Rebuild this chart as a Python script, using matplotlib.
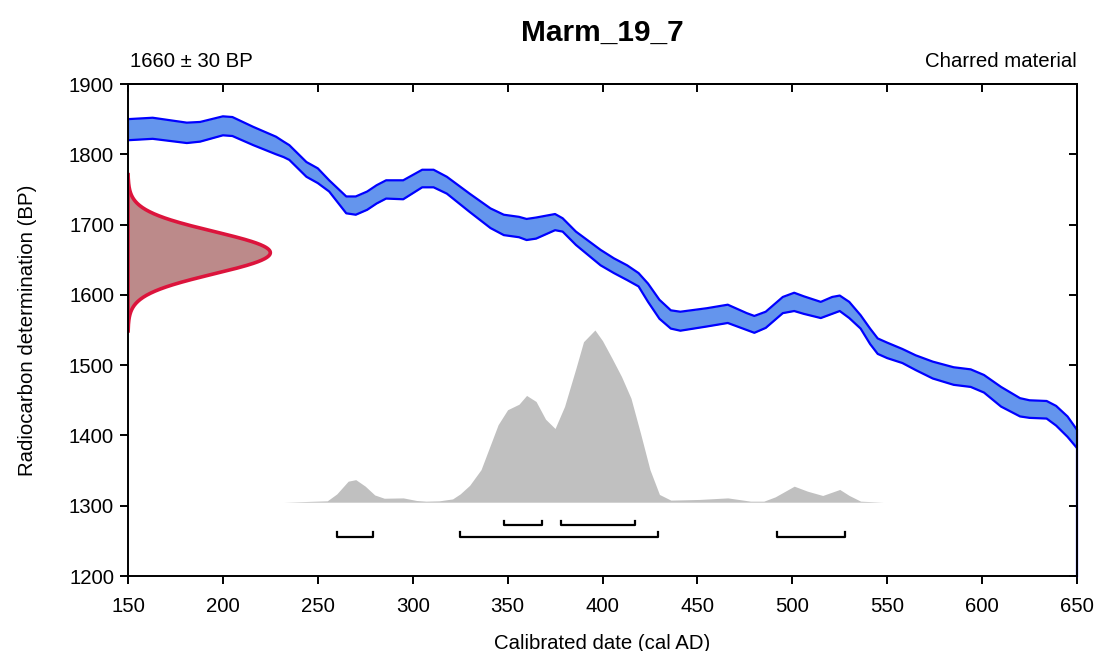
import matplotlib
matplotlib.use("Agg")
import matplotlib.pyplot as plt
import numpy as np

plt.rcParams['font.family'] = ['Liberation Sans', 'DejaVu Sans']

# ---- data ----
sample_name = "Marm_19_7"
c14_age = 1660
c14_err = 30
material = "Charred material"

cal_years = [150, 163, 181, 188, 200, 205, 216, 228, 232, 235, 244, 250, 256, 265, 270,
             276, 281, 286, 295, 305, 311, 318, 330, 341, 348, 356, 360, 365, 375, 379,
             386, 399, 406, 413, 419, 424, 430, 436, 441, 455, 466, 476, 480, 486, 495,
             501, 506, 515, 521, 525, 530, 536, 541, 545, 550, 558, 565, 574, 585, 594,
             601, 610, 620, 625, 634, 639, 645, 650]
curve_upper = [1850, 1852, 1845, 1846, 1854, 1853, 1839, 1825, 1818, 1813, 1789, 1780, 1763, 1740, 1740,
               1747, 1756, 1763, 1763, 1778, 1778, 1768, 1744, 1723, 1714, 1711, 1708, 1710, 1715, 1709,
               1690, 1664, 1652, 1642, 1631, 1616, 1593, 1578, 1576, 1581, 1586, 1574, 1570, 1576, 1597,
               1603, 1598, 1590, 1597, 1599, 1590, 1571, 1552, 1538, 1532, 1523, 1514, 1505, 1497, 1494,
               1486, 1469, 1453, 1450, 1449, 1442, 1427, 1408]
curve_lower = [1820, 1822, 1816, 1818, 1827, 1826, 1813, 1800, 1796, 1792, 1768, 1759, 1747, 1716, 1714,
               1721, 1730, 1737, 1736, 1753, 1753, 1744, 1718, 1695, 1685, 1682, 1678, 1680, 1692, 1690,
               1671, 1642, 1631, 1621, 1612, 1590, 1566, 1552, 1549, 1555, 1560, 1550, 1546, 1553, 1574,
               1577, 1573, 1567, 1573, 1577, 1567, 1552, 1530, 1516, 1510, 1503, 1493, 1481, 1472, 1469,
               1461, 1441, 1427, 1425, 1424, 1414, 1398, 1382]

post_years = [232, 255, 260, 266, 270, 275, 280, 285, 295, 302, 307, 314, 321, 325, 330,
              336, 345, 350, 356, 360, 365, 370, 375, 380, 386, 390, 396, 400, 405, 410,
              415, 420, 425, 430, 436, 451, 466, 478, 485, 491, 501, 508, 516, 525, 530,
              536, 548]
post_prob = [0, 0.008, 0.048, 0.122, 0.131, 0.093, 0.042, 0.023, 0.025, 0.010, 0.006, 0.008, 0.019, 0.048, 0.098,
             0.189, 0.450, 0.537, 0.569, 0.620, 0.585, 0.482, 0.428, 0.556, 0.778, 0.932, 1.0, 0.938, 0.836, 0.730,
             0.604, 0.401, 0.189, 0.045, 0.012, 0.016, 0.025, 0.006, 0.006, 0.031, 0.093, 0.064, 0.039, 0.074, 0.039,
             0.006, 0]

ranges_68 = [(348, 368), (378, 417)]
ranges_95 = [(260, 279), (325, 429), (492, 528)]

x_ticks = [150, 200, 250, 300, 350, 400, 450, 500, 550, 600, 650]
y_ticks = [1200, 1300, 1400, 1500, 1600, 1700, 1800, 1900]

# ---- layout constants ----
XMIN, XMAX = 150, 650
YMIN, YMAX = 1200, 1900
post_base = 1305
post_height = 245
norm_width = 75
row68_y = 1272
row95_y = 1256
bracket_tick = 6

fig = plt.figure(figsize=(10.96, 6.51), dpi=100)
ax = fig.add_axes([128/1096, 1 - 576/651, (1077-128)/1096, (576-84)/651])
ax.set_xlim(XMIN, XMAX)
ax.set_ylim(YMIN, YMAX)

# calibration curve band
ax.fill_between(cal_years, curve_lower, curve_upper, color='#6495ED', lw=0, zorder=2)
ax.plot(cal_years, curve_upper, color='#0000FF', lw=1.6, zorder=3)
ax.plot(cal_years, curve_lower, color='#0000FF', lw=1.6, zorder=3)
ax.plot([cal_years[0], cal_years[0]], [curve_lower[0], curve_upper[0]], color='#0000FF', lw=1.6, zorder=3)
ax.plot([cal_years[-1], cal_years[-1]], [curve_upper[-1], YMIN], color='#0000FF', lw=1.6, zorder=3,
        clip_on=False)

# radiocarbon determination normal distribution
bp = np.linspace(c14_age - 3.7 * c14_err, c14_age + 3.7 * c14_err, 300)
dens = np.exp(-0.5 * ((bp - c14_age) / c14_err) ** 2)
xs = XMIN + norm_width * dens
ax.fill_betweenx(bp, XMIN, xs, color='#BC8A8A', lw=0, zorder=2)
poly_x = np.concatenate([[XMIN], xs, [XMIN]])
poly_y = np.concatenate([[bp[0]], bp, [bp[-1]]])
ax.plot(poly_x, poly_y, color='#DC143C', lw=2.6, zorder=3, solid_joinstyle='round')
ax.plot([XMIN, XMIN], [bp[0], bp[-1]], color='#DC143C', lw=2.6, zorder=3)

# calibrated posterior
pp = np.array(post_prob)
ax.fill_between(post_years, post_base, post_base + pp * post_height, color='#C0C0C0', lw=0, zorder=1)

# range brackets
for (a, b) in ranges_68:
    ax.plot([a, a, b, b], [row68_y + bracket_tick, row68_y, row68_y, row68_y + bracket_tick],
            color='black', lw=1.6, zorder=3)
for (a, b) in ranges_95:
    ax.plot([a, a, b, b], [row95_y + bracket_tick, row95_y, row95_y, row95_y + bracket_tick],
            color='black', lw=1.6, zorder=3)

# axes styling
ax.set_xticks(x_ticks)
ax.set_yticks(y_ticks)
for sp in ax.spines.values():
    sp.set_linewidth(1.4)
    sp.set_zorder(4)
ax.tick_params(axis='both', which='major', direction='out', length=6, width=1.4,
               labelsize=14.7)
ax.tick_params(axis='x', pad=9)
ax.tick_params(axis='y', pad=4)
sec_x = ax.secondary_xaxis('top')
sec_x.set_xticks(x_ticks)
sec_x.tick_params(direction='in', length=6, width=1.4, labeltop=False)
sec_y = ax.secondary_yaxis('right')
sec_y.set_yticks(y_ticks)
sec_y.tick_params(direction='in', length=6, width=1.4, labelright=False)
ax.tick_params(top=False, right=False)
for s in sec_x.spines.values():
    s.set_linewidth(1.4)
for s in sec_y.spines.values():
    s.set_linewidth(1.4)

ax.set_xlabel("Calibrated date (cal AD)", fontsize=14.7, labelpad=13)
ax.set_ylabel("Radiocarbon determination (BP)", fontsize=14.7, labelpad=23)
ax.set_title(sample_name, fontsize=21.5, fontweight='bold', pad=31)
ax.text(0.002, 1.027, f"{c14_age} \u00b1 {c14_err} BP", transform=ax.transAxes,
        ha='left', va='bottom', fontsize=14.7)
ax.text(1.0, 1.027, material, transform=ax.transAxes,
        ha='right', va='bottom', fontsize=14.7)

fig.savefig("out.png", dpi=100)
